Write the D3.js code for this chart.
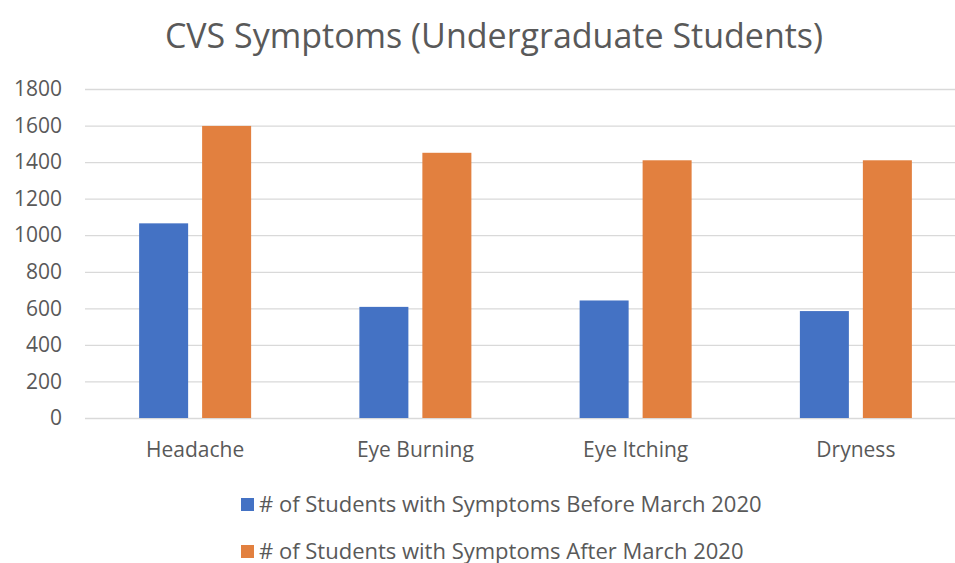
<!DOCTYPE html>
<html>
<head>
<meta charset="utf-8">
<script src="https://cdn.jsdelivr.net/npm/d3@7"></script>
<style>
  html, body { margin: 0; padding: 0; background: #fff; }
  svg { display: block; }
  text { font-family: "Open Sans", "Noto Sans", sans-serif; fill: #595959; }
</style>
</head>
<body>
<svg id="chart" width="955" height="563"></svg>
<script>
const title = "CVS Symptoms (Undergraduate Students)";
const categories = ["Headache", "Eye Burning", "Eye Itching", "Dryness"];
const seriesNames = [
  "# of Students with Symptoms Before March 2020",
  "# of Students with Symptoms After March 2020"
];
const beforeValues = [1065, 608, 643, 585];
const afterValues = [1598, 1451, 1410, 1410];
const yTicks = [0, 200, 400, 600, 800, 1000, 1200, 1400, 1600, 1800];
const colors = ["#4472C4", "#E2803F"];

const svg = d3.select("#chart");
const W = 955, H = 563;
const plot = { left: 85, right: 966, top: 89, bottom: 418 };

const y = d3.scaleLinear().domain([0, 1800]).range([plot.bottom, plot.top]);
const x0 = d3.scaleBand().domain(categories).range([plot.left, plot.right]).paddingInner(0).paddingOuter(0);
const bw = x0.bandwidth();
const x1 = d3.scaleBand().domain(seriesNames)
  .range([bw / 2 - 56, bw / 2 + 56]).paddingInner(0.222).paddingOuter(0);

// Title
svg.append("text")
  .attr("x", 494).attr("y", 48)
  .attr("text-anchor", "middle")
  .style("font-size", "34px")
  .text(title);

// Gridlines
const yAxis = d3.axisLeft(y).tickValues(yTicks).tickFormat(d3.format("d"))
  .tickSize(-(W - plot.left)).tickPadding(23);
const gy = svg.append("g").attr("transform", `translate(${plot.left},0)`).call(yAxis);
gy.select(".domain").remove();
gy.selectAll(".tick line").attr("stroke", "#d9d9d9").attr("stroke-width", 1.3);
gy.selectAll(".tick text").style("font-size", "21px").attr("fill", "#595959").style("font-family", "'Open Sans', sans-serif");

// Bars
const data = categories.map((c, i) => ({ cat: c, vals: [beforeValues[i], afterValues[i]] }));
const groups = svg.append("g").selectAll("g").data(data).join("g")
  .attr("transform", d => `translate(${x0(d.cat)},0)`);
groups.selectAll("rect")
  .data(d => d.vals.map((v, j) => ({ key: seriesNames[j], v, j })))
  .join("rect")
  .attr("x", d => x1(d.key))
  .attr("width", x1.bandwidth())
  .attr("y", d => y(d.v))
  .attr("height", d => y(0) - y(d.v))
  .attr("fill", d => colors[d.j]);

// Category labels
const xAxis = d3.axisBottom(x0).tickSize(0).tickPadding(0);
const gx = svg.append("g").attr("transform", `translate(0,${plot.bottom})`).call(xAxis);
gx.select(".domain").remove();
gx.selectAll(".tick text").attr("dy", null).attr("y", 39)
  .style("font-size", "21px").attr("fill", "#595959").style("font-family", "'Open Sans', sans-serif");

// Legend
const legend = svg.append("g");
const rows = legend.selectAll("g").data(seriesNames).join("g")
  .attr("transform", (d, i) => `translate(241,${498 + i * 47})`);
rows.append("rect").attr("width", 13).attr("height", 13).attr("fill", (d, i) => colors[i]);
rows.append("text").attr("x", 18).attr("y", 13.5)
  .style("font-size", "22px").text(d => d);
</script>
</body>
</html>
